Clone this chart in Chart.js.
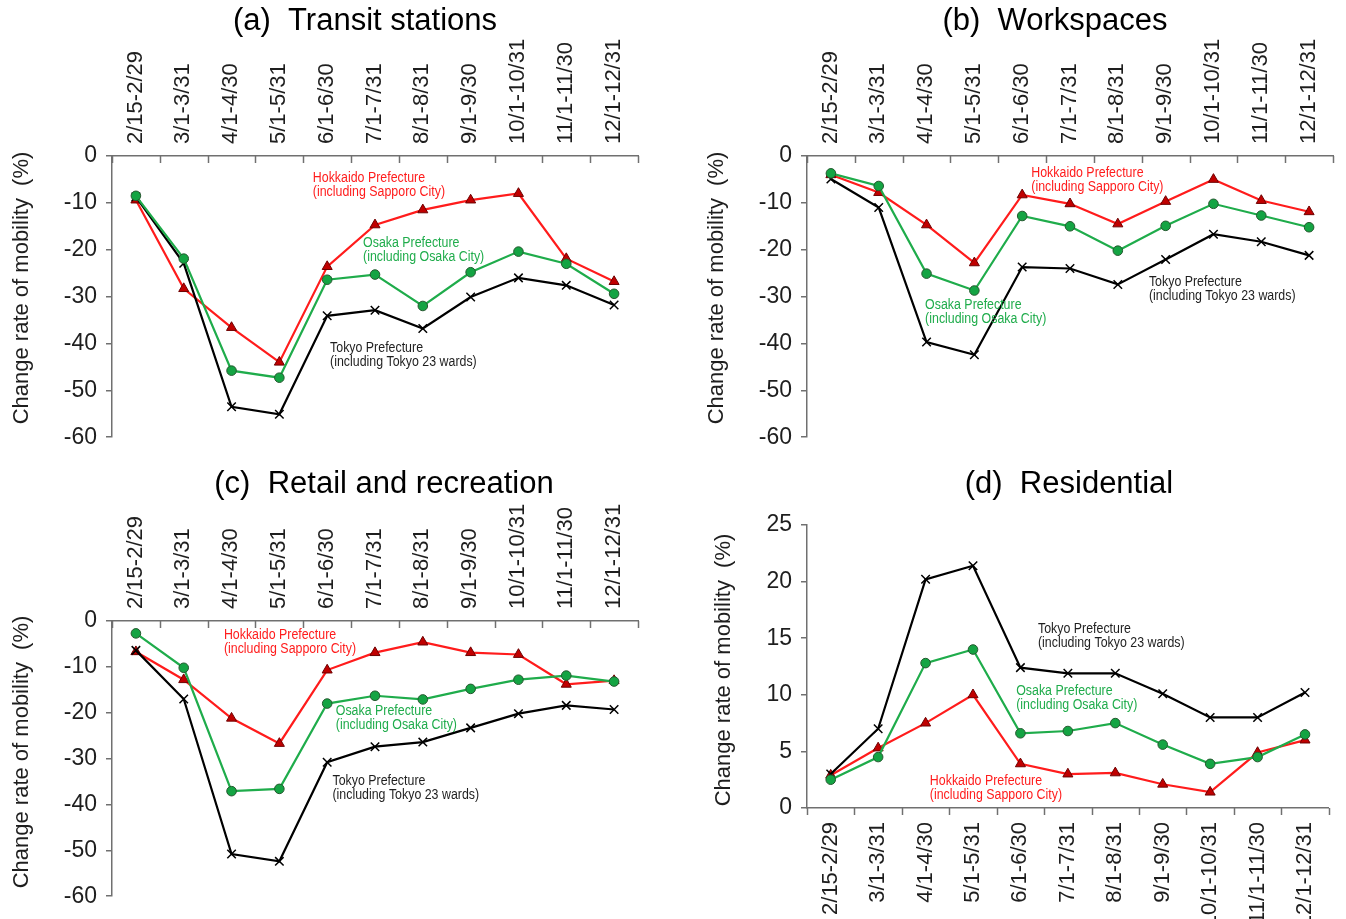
<!DOCTYPE html>
<html>
<head>
<meta charset="utf-8">
<script src="https://cdn.jsdelivr.net/npm/chart.js@4.4.1/dist/chart.umd.min.js"></script>
<style>
  html, body { margin: 0; padding: 0; background: #ffffff; }
  #wrap { position: relative; width: 1346px; height: 919px; overflow: hidden; }
  #wrap canvas { position: absolute; }
</style>
</head>
<body>
<div id="wrap">
  <canvas id="chartA" width="673" height="460" style="left:0px;top:0px"></canvas>
  <canvas id="chartB" width="673" height="460" style="left:673px;top:0px"></canvas>
  <canvas id="chartC" width="673" height="459" style="left:0px;top:460px"></canvas>
  <canvas id="chartD" width="673" height="459" style="left:673px;top:460px"></canvas>
</div>
<script>
// Half-month / monthly periods of 2020
const periods = ['2/15-2/29', '3/1-3/31', '4/1-4/30', '5/1-5/31', '6/1-6/30', '7/1-7/31',
                 '8/1-8/31', '9/1-9/30', '10/1-10/31', '11/1-11/30', '12/1-12/31'];

// (a) Transit stations, change rate of mobility (%)
const transitHokkaido = [-9.4, -28.3, -36.6, -44.0, -23.6, -14.7, -11.5, -9.4, -8.0, -21.9, -26.8];
const transitOsaka    = [-8.5, -21.9, -45.8, -47.3, -26.4, -25.3, -32.0, -24.8, -20.4, -23.0, -29.4];
const transitTokyo    = [-8.7, -22.9, -53.5, -55.1, -34.1, -32.9, -36.8, -30.1, -26.0, -27.6, -31.8];

// (b) Workspaces
const workHokkaido = [-4.0, -7.8, -14.7, -22.8, -8.3, -10.2, -14.5, -9.7, -5.0, -9.5, -11.9];
const workOsaka    = [-3.7, -6.4, -25.1, -28.7, -12.8, -15.0, -20.2, -14.9, -10.2, -12.7, -15.2];
const workTokyo    = [-4.9, -11.0, -39.7, -42.4, -23.7, -24.0, -27.4, -22.1, -16.7, -18.3, -21.2];

// (c) Retail and recreation
const retailHokkaido = [-6.7, -12.8, -21.2, -26.7, -10.7, -6.9, -4.6, -6.9, -7.3, -13.8, -13.0];
const retailOsaka    = [-2.7, -10.2, -37.1, -36.6, -18.0, -16.3, -17.1, -14.8, -12.8, -11.9, -13.2];
const retailTokyo    = [-6.4, -17.0, -50.8, -52.4, -30.8, -27.4, -26.4, -23.3, -20.2, -18.4, -19.3];

// (d) Residential
const resHokkaido = [2.9, 5.3, 7.5, 10.0, 3.9, 3.0, 3.1, 2.1, 1.4, 4.9, 6.0];
const resOsaka    = [2.5, 4.5, 12.8, 14.0, 6.6, 6.8, 7.5, 5.6, 3.9, 4.5, 6.5];
const resTokyo    = [3.0, 7.0, 20.2, 21.4, 12.4, 11.9, 11.9, 10.1, 8.0, 8.0, 10.2];

const hokkaidoLines = ['Hokkaido Prefecture', '(including Sapporo City)'];
const osakaLines    = ['Osaka Prefecture', '(including Osaka City)'];
const tokyoLines    = ['Tokyo Prefecture', '(including Tokyo 23 wards)'];
const yAxisTitle = 'Change rate of mobility  (%)';

const FONT = '"Liberation Sans", Arial, sans-serif';
const AXIS = '#707070';
const TEXT = '#1e1e1e';
const RED = '#ff1c1c';
const GREEN = '#1fac4b';

// Titles, axis title, tick marks at category boundaries and line annotations
const decoPlugin = {
  id: 'deco',
  afterDraw(chart, args, opts) {
    const ctx = chart.ctx;
    const xs = chart.scales.x, ys = chart.scales.y;
    const area = chart.chartArea;
    const n = chart.data.labels.length;
    const step = (area.right - area.left) / n;
    ctx.save();
    // tick marks between categories (pointing downward from the category axis)
    ctx.strokeStyle = AXIS;
    ctx.lineWidth = 1.5;
    const base = opts.xTop ? area.top : area.bottom;
    for (let i = 0; i <= n; i++) {
      const px = Math.round(area.left + i * step) + 0.5;
      ctx.beginPath();
      ctx.moveTo(px, base);
      ctx.lineTo(px, base + 7);
      ctx.stroke();
    }
    // panel title
    ctx.fillStyle = '#000';
    ctx.font = '31px ' + FONT;
    ctx.textAlign = 'center';
    ctx.textBaseline = 'middle';
    ctx.fillText(opts.title.text, opts.title.x, opts.title.y);
    // y axis title
    ctx.save();
    ctx.translate(opts.yTitle.x, opts.yTitle.y);
    ctx.rotate(-Math.PI / 2);
    ctx.font = '22px ' + FONT;
    ctx.fillStyle = TEXT;
    ctx.fillText(yAxisTitle, 0, 0);
    ctx.restore();
    // series annotations, anchored in data coordinates
    ctx.font = '14px ' + FONT;
    ctx.textAlign = 'left';
    for (const note of opts.notes) {
      const px = xs.getPixelForValue(note.at);
      const py = ys.getPixelForValue(note.value);
      ctx.fillStyle = note.color;
      note.lines.forEach((line, k) => {
        ctx.save();
        ctx.translate(px, py + k * 14);
        ctx.scale(0.885, 1);
        ctx.fillText(line, 0, 0);
        ctx.restore();
      });
    }
    ctx.restore();
  }
};

function makeDatasets(h, o, t) {
  return [
    { label: 'Osaka Prefecture', data: o, order: 0, borderColor: GREEN, borderWidth: 2.2,
      pointStyle: 'circle', pointRadius: 4.8, pointBackgroundColor: '#14a443',
      pointBorderColor: '#25582f', pointBorderWidth: 1 },
    { label: 'Tokyo Prefecture', data: t, order: 1, borderColor: '#000000', borderWidth: 2.2,
      pointStyle: 'crossRot', pointRadius: 6, pointBorderColor: '#000000', pointBorderWidth: 1.5 },
    { label: 'Hokkaido Prefecture', data: h, order: 2, borderColor: RED, borderWidth: 2.2,
      pointStyle: 'triangle', pointRadius: 5.8, pointBackgroundColor: '#c00000',
      pointBorderColor: '#6e0000', pointBorderWidth: 1 }
  ];
}

function makeChart(id, p) {
  return new Chart(document.getElementById(id), {
    type: 'line',
    data: { labels: periods, datasets: makeDatasets(p.h, p.o, p.t) },
    plugins: [decoPlugin],
    options: {
      responsive: false,
      animation: false,
      devicePixelRatio: 1,
      layout: { padding: p.padding },
      elements: { line: { tension: 0 } },
      plugins: {
        legend: { display: false },
        tooltip: { enabled: false },
        deco: { xTop: p.xTop, title: p.title, yTitle: p.yTitle, notes: p.notes }
      },
      scales: {
        x: {
          type: 'category',
          position: p.xTop ? 'top' : 'bottom',
          offset: true,
          grid: { display: false, drawTicks: false },
          border: { display: true, color: AXIS, width: 1.5 },
          ticks: { minRotation: 90, maxRotation: 90, autoSkip: false,
                   padding: p.xTop ? 12 : 14, labelOffset: p.xTop ? 26 : 0,
                   color: TEXT, font: { family: FONT, size: 22 } },
          afterFit(s) { s.height = p.xHeight; }
        },
        y: {
          min: p.yMin, max: p.yMax,
          ticks: { stepSize: p.yStep, padding: 9, color: TEXT, font: { family: FONT, size: 23 } },
          grid: { drawOnChartArea: false, drawTicks: true, tickLength: 6, color: AXIS, lineWidth: 1.5 },
          border: { display: true, color: AXIS, width: 1.5 },
          afterFit(s) { s.width = p.yWidth; }
        }
      }
    }
  });
}

makeChart('chartA', {
  h: transitHokkaido, o: transitOsaka, t: transitTokyo,
  xTop: true, xHeight: 156, yWidth: 112, yMin: -60, yMax: 0, yStep: 10,
  padding: { left: 0, top: 0, right: 35, bottom: 21 },
  title: { text: '(a)  Transit stations', x: 365, y: 21 },
  yTitle: { x: 22, y: 288 },
  notes: [
    { lines: hokkaidoLines, color: RED, at: 3.7, value: -4.7 },
    { lines: osakaLines, color: GREEN, at: 4.75, value: -18.5 },
    { lines: tokyoLines, color: TEXT, at: 4.06, value: -41.0 }
  ]
});

makeChart('chartB', {
  h: workHokkaido, o: workOsaka, t: workTokyo,
  xTop: true, xHeight: 156, yWidth: 134, yMin: -60, yMax: 0, yStep: 10,
  padding: { left: 0, top: 0, right: 13, bottom: 21 },
  title: { text: '(b)  Workspaces', x: 382, y: 21 },
  yTitle: { x: 44, y: 288 },
  notes: [
    { lines: hokkaidoLines, color: RED, at: 4.19, value: -3.7 },
    { lines: osakaLines, color: GREEN, at: 1.97, value: -31.8 },
    { lines: tokyoLines, color: TEXT, at: 6.65, value: -27.0 }
  ]
});

makeChart('chartC', {
  h: retailHokkaido, o: retailOsaka, t: retailTokyo,
  xTop: true, xHeight: 161, yWidth: 112, yMin: -60, yMax: 0, yStep: 10,
  padding: { left: 0, top: 0, right: 35, bottom: 15 },
  title: { text: '(c)  Retail and recreation', x: 384, y: 24 },
  yTitle: { x: 22, y: 292 },
  notes: [
    { lines: hokkaidoLines, color: RED, at: 1.84, value: -3.1 },
    { lines: osakaLines, color: GREEN, at: 4.18, value: -19.6 },
    { lines: tokyoLines, color: TEXT, at: 4.11, value: -34.9 }
  ]
});

makeChart('chartD', {
  h: resHokkaido, o: resOsaka, t: resTokyo,
  xTop: false, xHeight: 111, yWidth: 134, yMin: 0, yMax: 25, yStep: 5,
  padding: { left: 0, top: 65, right: 13, bottom: 0 },
  title: { text: '(d)  Residential', x: 396, y: 24 },
  yTitle: { x: 51, y: 210 },
  notes: [
    { lines: tokyoLines, color: TEXT, at: 4.37, value: 15.8 },
    { lines: osakaLines, color: GREEN, at: 3.91, value: 10.3 },
    { lines: hokkaidoLines, color: RED, at: 2.09, value: 2.4 }
  ]
});
</script>
</body>
</html>
